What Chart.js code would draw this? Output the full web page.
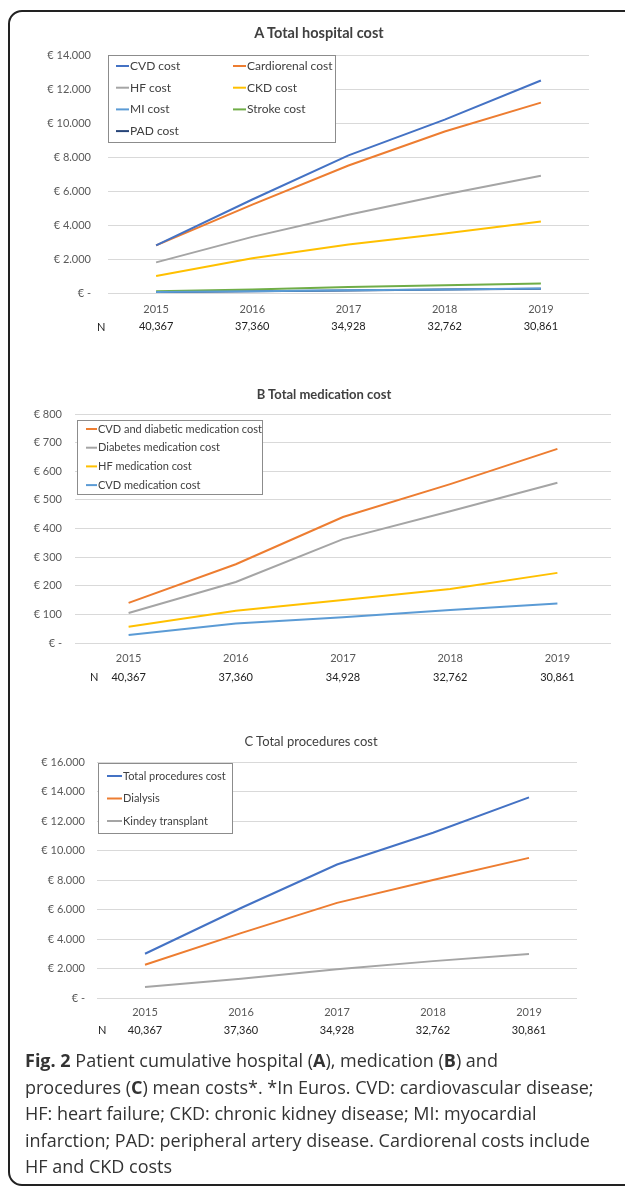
<!DOCTYPE html>
<html lang="en">
<head>
  <meta charset="UTF-8">
  <title>Patient cumulative mean costs</title>
  <script src="https://cdn.jsdelivr.net/npm/chart.js"></script>
  <style>
    body { margin: 0; background: #fff; width: 625px; height: 1188px; overflow: hidden; position: relative; }
    #frame { position: absolute; left: 8px; top: 10px; width: 640px; height: 1176px;
             border: 2px solid #222; border-radius: 14px; box-sizing: border-box; }
    .panel { position: absolute; left: 0; width: 625px; height: 345px; }
    .ttl { position: absolute; width: 300px; margin-left: -150px; text-align: center;
           font: 13px/16px Lato, sans-serif; color: #404040; }
    .nlab { position: absolute; font: 11px/14px Lato, sans-serif; color: #222; }
    #caption { position: absolute; left: 25px; top: 1047px; margin: 0; width: 600px;
               font: 18px/26.5px "Open Sans", sans-serif; color: #333; }
  </style>
</head>
<body>
  <div id="frame"></div>

  <div class="panel" style="top:0"><canvas id="chartA"></canvas></div>
  <div class="panel" style="top:360px"><canvas id="chartB"></canvas></div>
  <div class="panel" style="top:700px"><canvas id="chartC"></canvas></div>

  <div class="ttl" style="left:319px; top:25px; font-weight:bold; font-size:14.5px">A Total hospital cost</div>
  <div class="ttl" style="left:324px; top:386px; font-weight:bold">B Total medication cost</div>
  <div class="ttl" style="left:311px; top:733px">C Total procedures cost</div>

  <div class="nlab" style="left:97px; top:320px">N</div>
  <div class="nlab" style="left:90px; top:670px">N</div>
  <div class="nlab" style="left:98px; top:1023px">N</div>

  <p id="caption"><b>Fig. 2</b> Patient cumulative hospital (<b>A</b>), medication (<b>B</b>) and<br>
  procedures (<b>C</b>) mean costs*. *In Euros. CVD: cardiovascular disease;<br>
  HF: heart failure; CKD: chronic kidney disease; MI: myocardial<br>
  infarction; PAD: peripheral artery disease. Cardiorenal costs include<br>
  HF and CKD costs</p>

  <script>
    // Anos e número de pacientes
    const years = ['2015', '2016', '2017', '2018', '2019'];
    const patientsN = ['40,367', '37,360', '34,928', '32,762', '30,861'];

    // A - custo hospitalar
    const cvdCost = [2800, 5500, 8100, 10200, 12500];
    const cardiorenalCost = [2800, 5200, 7500, 9500, 11200];
    const hfCost = [1800, 3300, 4600, 5800, 6900];
    const ckdCost = [1000, 2050, 2850, 3500, 4200];
    const miCost = [60, 110, 160, 210, 260];
    const strokeCost = [110, 210, 350, 450, 560];
    const padCost = [50, 100, 150, 200, 250];

    // B - custo de medicação
    const cvdDiabeticMed = [140, 275, 440, 555, 678];
    const diabetesMed = [105, 213, 363, 460, 560];
    const hfMed = [57, 113, 150, 189, 245];
    const cvdMed = [28, 68, 90, 115, 138];

    // C - custo de procedimentos
    const totalProcedures = [3000, 6100, 9050, 11200, 13600];
    const dialysis = [2250, 4400, 6450, 8000, 9500];
    const kidneyTransplant = [750, 1300, 1950, 2500, 2980];

    const C = {
      blue: '#4472C4', orange: '#ED7D31', gray: '#A5A5A5', gold: '#FFC000',
      lightBlue: '#5B9BD5', green: '#70AD47', navy: '#264478'
    };
    const font = 'Lato, sans-serif';

    // legenda dentro de uma caixa, no canto da área do gráfico
    const boxLegend = {
      id: 'boxLegend',
      afterDraw(chart, args, o) {
        const ctx = chart.ctx, a = chart.chartArea;
        const x0 = Math.round(a.left + o.dx), y0 = Math.round(a.top + o.dy);
        ctx.save();
        ctx.fillStyle = '#fff';
        ctx.fillRect(x0, y0, o.w, o.h);
        ctx.strokeStyle = '#8c8c8c';
        ctx.lineWidth = 1;
        ctx.strokeRect(x0 + 0.5, y0 + 0.5, o.w, o.h);
        ctx.font = o.size + 'px ' + font;
        ctx.textBaseline = 'middle';
        chart.data.datasets.forEach((ds, i) => {
          const col = i % o.cols, row = Math.floor(i / o.cols);
          const x = x0 + o.padX + col * o.colW, y = y0 + o.padY + row * o.rowH;
          ctx.strokeStyle = ds.borderColor;
          ctx.lineWidth = 2;
          ctx.beginPath(); ctx.moveTo(x, y); ctx.lineTo(x + o.lineW, y); ctx.stroke();
          ctx.fillStyle = '#404040';
          ctx.fillText(ds.label, x + o.lineW + 1, y);
        });
        ctx.restore();
      }
    };

    function euro(v) {
      if (v === 0) return '€ -';
      return '€ ' + v.toLocaleString('de-DE');
    }

    function serie(label, data, color) {
      return { label, data, borderColor: color, backgroundColor: color, borderWidth: 2,
               pointRadius: 0, tension: 0, fill: false };
    }

    function makeChart(id, cfg) {
      return new Chart(document.getElementById(id), {
        type: 'line',
        data: { labels: years, datasets: cfg.datasets },
        plugins: [boxLegend],
        options: {
          responsive: true,
          maintainAspectRatio: false,
          animation: false,
          layout: { padding: cfg.padding },
          plugins: {
            legend: { display: false },
            tooltip: { enabled: false },
            boxLegend: cfg.legend
          },
          scales: {
            x: {
              offset: true,
              grid: { display: false, drawTicks: false },
              border: { display: false },
              ticks: { color: '#595959', font: { family: font, size: 11 }, padding: cfg.xPad },
              afterFit: s => { s.height = cfg.xH; }
            },
            x2: {
              type: 'category', labels: patientsN, position: 'bottom', offset: true,
              grid: { display: false, drawTicks: false },
              border: { display: false },
              ticks: { color: '#222', font: { family: font, size: 11 }, padding: cfg.nPad },
              afterFit: s => { s.height = cfg.nH; }
            },
            y: {
              min: 0, max: cfg.yMax,
              grid: { color: '#d9d9d9', drawTicks: false, lineWidth: 1 },
              border: { display: false },
              ticks: { stepSize: cfg.yStep, color: '#595959', font: { family: font, size: 11 },
                       padding: cfg.yPad, callback: euro },
              afterFit: s => { s.width = cfg.yW; }
            }
          }
        }
      });
    }

    makeChart('chartA', {
      padding: { left: 0, right: 36, top: 55, bottom: 0 },
      yMax: 14000, yStep: 2000, yW: 108, yPad: 17,
      xH: 26, xPad: 10, nH: 26, nPad: 1,
      datasets: [
        serie('CVD cost', cvdCost, C.blue),
        serie('Cardiorenal cost', cardiorenalCost, C.orange),
        serie('HF cost', hfCost, C.gray),
        serie('CKD cost', ckdCost, C.gold),
        serie('MI cost', miCost, C.lightBlue),
        serie('Stroke cost', strokeCost, C.green),
        serie('PAD cost', padCost, C.navy)
      ],
      legend: { dx: 0, dy: 0, w: 227, h: 87, cols: 2, colW: 117, rowH: 21.7, padX: 8, padY: 11, lineW: 13, size: 12 }
    });

    makeChart('chartB', {
      padding: { left: 0, right: 14, top: 54, bottom: 14 },
      yMax: 800, yStep: 100, yW: 75, yPad: 13,
      xH: 24, xPad: 9, nH: 24, nPad: 4,
      datasets: [
        serie('CVD and diabetic medication cost', cvdDiabeticMed, C.orange),
        serie('Diabetes medication cost', diabetesMed, C.gray),
        serie('HF medication cost', hfMed, C.gold),
        serie('CVD medication cost', cvdMed, C.lightBlue)
      ],
      legend: { dx: 2, dy: 6, w: 185, h: 74, cols: 1, colW: 0, rowH: 18.7, padX: 9, padY: 9, lineW: 11, size: 11 }
    });

    makeChart('chartC', {
      padding: { left: 0, right: 48, top: 62, bottom: 3 },
      yMax: 16000, yStep: 2000, yW: 97, yPad: 12,
      xH: 20, xPad: 8, nH: 24, nPad: 6,
      datasets: [
        serie('Total procedures cost', totalProcedures, C.blue),
        serie('Dialysis', dialysis, C.orange),
        serie('Kindey transplant', kidneyTransplant, C.gray)
      ],
      legend: { dx: 1, dy: 1, w: 134, h: 70, cols: 1, colW: 0, rowH: 22.5, padX: 9, padY: 13, lineW: 15, size: 11 }
    });
  </script>
</body>
</html>
